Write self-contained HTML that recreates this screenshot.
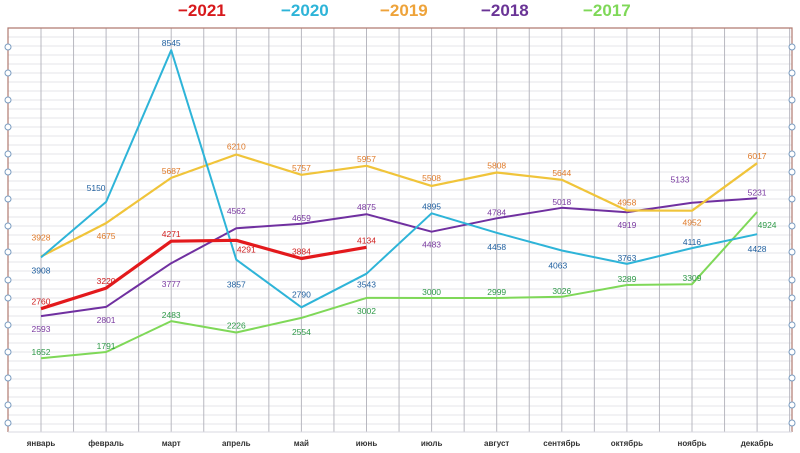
<!DOCTYPE html>
<html><head><meta charset="utf-8">
<style>
html,body{margin:0;padding:0;background:#fff;}
svg{display:block;font-family:"Liberation Sans","DejaVu Sans",sans-serif;}
</style></head>
<body>
<svg id="chart" width="800" height="453" viewBox="0 0 800 453" xmlns="http://www.w3.org/2000/svg">
<g id="grid"></g>
<g id="series"></g>
<g id="labels"></g>
<g id="legend"></g>
<g id="xaxis"></g>
</svg>
<script>
const months = ["январь","февраль","март","апрель","май","июнь","июль","август","сентябрь","октябрь","ноябрь","декабрь"];
const years = ["2021","2020","2019","2018","2017"];
const v2021 = [2760,3220,4271,4291,3884,4134];
const v2020 = [3908,5150,8545,3857,2790,3543,4895,4458,4063,3763,4116,4428];
const v2019 = [3928,4675,5687,6210,5757,5957,5508,5808,5644,4958,4952,6017];
const v2018 = [2593,2801,3777,4562,4659,4875,4483,4784,5018,4919,5133,5231];
const v2017 = [1652,1791,2483,2226,2554,3002,3000,2999,3026,3289,3309,4924];

const NS="http://www.w3.org/2000/svg";
function mk(tag,attrs,parent){const e=document.createElementNS(NS,tag);for(const k in attrs)e.setAttribute(k,attrs[k]);parent.appendChild(e);return e;}
const X0=41,DX=65.1,YB=432,K=0.04468;
const xs=i=>X0+i*DX;
const ys=v=>YB-v*K;

const grid=document.getElementById('grid');
for(let y=37;y<432;y+=9){
  const l=mk('line',{x1:8,x2:792,y1:y,y2:y,stroke:'#e4e4ea','stroke-width':1},grid);
  
  
}
for(let i=-0.5;i<=11.6;i+=0.5){
  const x=xs(i); if(x<9||x>791) continue;
  const l=mk('line',{x1:x,x2:x,y1:28,y2:432,stroke:'#b8b8c0','stroke-width':1},grid);
  
  
}
const b=mk('path',{d:'M8,432 L8,28 L792,28 L792,432',fill:'none',stroke:'#b07a70','stroke-width':1.2},grid);


const bl=mk('line',{x1:8,x2:792,y1:432,y2:432,stroke:'#d8d8e0','stroke-width':1},grid);


const circY=[47,73,100,127,154,172,199,226,252,280,298,325,352,378,405,423];
circY.forEach(y=>{[8,792].forEach(x=>{
  const c=mk('circle',{cx:x,cy:y,r:3,fill:'#fff',stroke:'#7a9cc0','stroke-width':1},grid);
  
  
});});

const seriesDefs=[
 {name:'2017',vals:v2017,color:'#7fd858',lab:'#2f9a48',w:2,dy:[-6,-6,-6,-7,14,13,-6,-6,-6,-6,-6,13],dx:[0,0,0,0,0,0,0,0,0,0,0,10]},
 {name:'2018',vals:v2018,color:'#7030a0',lab:'#7a3aa0',w:2,dy:[13,13,21,-17,-6,-7,13,-6,-6,13,-23,-6],dx:[0,0,0,0,0,0,0,0,0,0,-12,0]},
 {name:'2019',vals:v2019,color:'#f0c43a',lab:'#e07b2a',w:2.2,dy:[-19,13,-7,-8,-7,-7,-8,-7,-7,-8,12,-7],dx:[0,0,0,0,0,0,0,0,0,0,0,0]},
 {name:'2020',vals:v2020,color:'#2eb4d8',lab:'#1f5f9f',w:2,dy:[13,-14,-7,25,-13,11,-7,14,15,-6,-6,15],dx:[0,-10,0,0,0,0,0,0,-4,0,0,0]},
 {name:'2021',vals:v2021,color:'#e3191c',lab:'#d02020',w:3.2,dy:[-7,-7,-7,9,-7,-7],dx:[0,0,0,10,0,0]}
];
const sg=document.getElementById('series'),lg=document.getElementById('labels');
seriesDefs.forEach(s=>{
  const pts=s.vals.map((v,i)=>xs(i).toFixed(1)+','+ys(v).toFixed(1)).join(' ');
  const p=mk('polyline',{points:pts,fill:'none',stroke:s.color,'stroke-width':s.w,'stroke-linejoin':'round'},sg);
  
  
  s.vals.forEach((v,i)=>{
    const t=mk('text',{x:xs(i)+(s.dx[i]||0),y:ys(v)+(s.dy[i]||0)+3,'text-anchor':'middle','font-size':8.5,'font-weight':500,fill:s.lab},lg);
    t.textContent=v;
    
    
  });
});
const legColors={'2021':'#d7191c','2020':'#2eb4d8','2019':'#eea33a','2018':'#6a3496','2017':'#7fd858'};
const legX=[178,281,380,481,583];
const lgd=document.getElementById('legend');
years.forEach((y,i)=>{
  const t=mk('text',{x:legX[i],y:16,'font-size':17,'font-weight':'bold',fill:legColors[y]},lgd);
  t.textContent='\u2212'+y;
  
  
});
const xa=document.getElementById('xaxis');
months.forEach((m,i)=>{
  const t=mk('text',{x:xs(i),y:446,'text-anchor':'middle','font-size':8,'font-weight':'bold',fill:'#333'},xa);
  t.textContent=m;
  
  
});
</script>
</body></html>
